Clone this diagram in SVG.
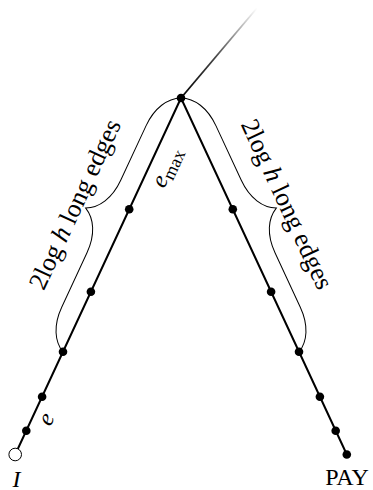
<svg xmlns="http://www.w3.org/2000/svg" width="373" height="490" viewBox="0 0 373 490">
<style>
  .edge { stroke:#000; stroke-width:2; fill:none; stroke-linecap:round; }
  .brace { stroke:#000; stroke-width:1; fill:none; }
  .dot { fill:#000; }
  .open { fill:#fff; stroke:#000; stroke-width:1; }
  text { font-family:"Liberation Serif","DejaVu Serif",serif; font-size:24px; fill:#000; }
  .big { font-size:26px; }
  .it { font-style:italic; }
</style>
<defs>
  <linearGradient id="fade" gradientUnits="userSpaceOnUse" x1="181" y1="98" x2="257" y2="8">
    <stop offset="0" stop-color="#000"/>
    <stop offset="0.45" stop-color="#444"/>
    <stop offset="1" stop-color="#fff"/>
  </linearGradient>
  <path id="bracePath" d="M0,0 C6,12 20,20 40,20 L100,20 C120,20 134,28 140,40 C146,28 160,20 180,20 L240,20 C260,20 274,12 280,0"/>
</defs>
<g id="connectors">
  <line x1="181" y1="98" x2="257" y2="8" stroke="url(#fade)" stroke-width="1.8"/>
  <line class="edge" x1="181" y1="98" x2="15.2" y2="454.5"/>
  <line class="edge" x1="181" y1="98" x2="346.8" y2="454.5"/>
  <use href="#bracePath" class="brace" transform="translate(181,98) rotate(114.93)"/>
  <use href="#bracePath" class="brace" transform="translate(362,0) scale(-1,1) translate(181,98) rotate(114.93)"/>
</g>
<g id="top"><circle class="dot" cx="181" cy="98" r="4.3"/></g>
<g id="l1"><circle class="dot" cx="129.2" cy="209.3" r="4.3"/></g>
<g id="l2"><circle class="dot" cx="90.9" cy="291.7" r="4.3"/></g>
<g id="l3"><circle class="dot" cx="63" cy="351.7" r="4.3"/></g>
<g id="l4"><circle class="dot" cx="42.1" cy="396.7" r="4.3"/></g>
<g id="l5"><circle class="dot" cx="26.3" cy="430.7" r="4.3"/></g>
<g id="I"><circle class="open" cx="15.2" cy="454.5" r="6.3"/><text class="it" x="16.5" y="486.5" text-anchor="middle">I</text></g>
<g id="r1"><circle class="dot" cx="232.8" cy="209.3" r="4.3"/></g>
<g id="r2"><circle class="dot" cx="271.1" cy="291.7" r="4.3"/></g>
<g id="r3"><circle class="dot" cx="299" cy="351.7" r="4.3"/></g>
<g id="r4"><circle class="dot" cx="319.9" cy="396.7" r="4.3"/></g>
<g id="r5"><circle class="dot" cx="335.7" cy="430.7" r="4.3"/></g>
<g id="PAY"><circle class="dot" cx="346.8" cy="454.5" r="4.3"/><text x="347" y="485" text-anchor="middle">PAY</text></g>
<g id="labels">
  <text class="big" transform="translate(82.6,207.8) rotate(-65.07)" text-anchor="middle">2log <tspan class="it">h</tspan> long edges</text>
  <text class="big" transform="translate(279.4,207.8) rotate(65.07)" text-anchor="middle">2log <tspan class="it">h</tspan> long edges</text>
  <text transform="translate(164.2,189) rotate(-65.07)" font-size="25"><tspan class="it">e</tspan><tspan font-size="18" dy="4.5">max</tspan></text>
  <text class="it" font-size="25" transform="translate(52.8,422.1) rotate(-65.07)" text-anchor="middle">e</text>
</g>
</svg>
